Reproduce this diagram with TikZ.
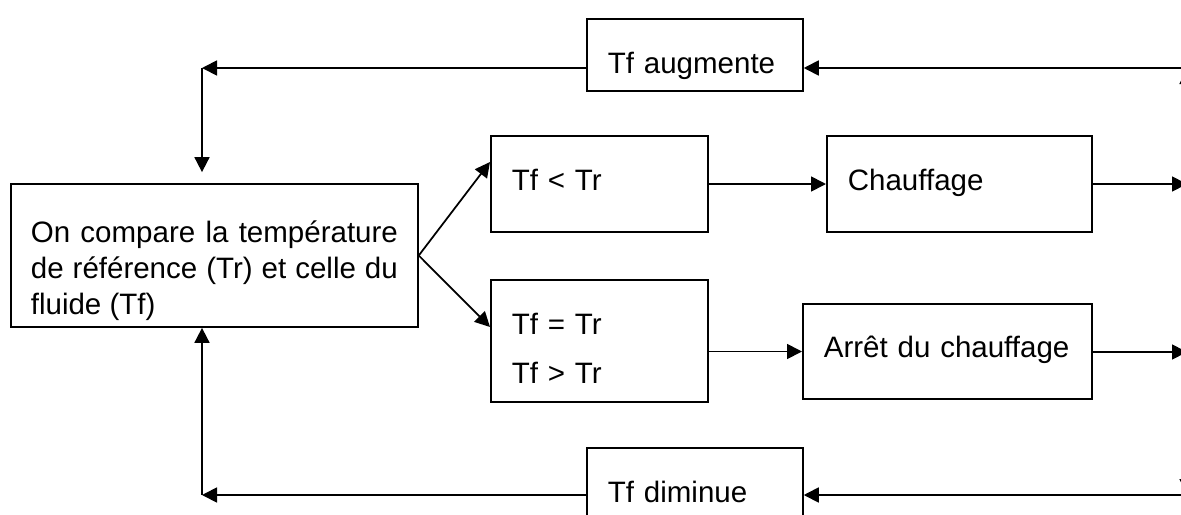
\documentclass[tikz,border=0pt]{standalone}
\usepackage{fontspec}
\setmainfont{Liberation Sans}
\setlength{\parindent}{0pt}
\usetikzlibrary{arrows.meta, calc}
\tikzstyle{bloc} = [rectangle, 
draw=black, 
line width=0.7pt, 
inner ysep=0pt, 
inner xsep=8.4pt, 
align=left, 
anchor=base west, 
font=\fontsize{11.8}{14.4}\selectfont]
\tikzstyle{arrow} = [line width=0.7pt, -{Triangle[length=6pt,width=6pt]}]

\begin{document}
\begin{tikzpicture}[x=0.4pt, y=-0.4pt]
	\useasboundingbox (0,0) rectangle (1181,514);
	\clip (0,0) rectangle (1181,514);

	\node (comp) [bloc, align=justify, inner xsep=8pt, text width=146.8pt, text height=23.2pt, text depth=34pt] at (10,242) {On compare la température de référence (Tr) et celle du fluide (Tf)};
	\node (inf) [bloc, text width=70pt, text height=21.6pt, text depth=16.8pt] at (490,190) {Tf < Tr};
	\node (chauf) [bloc, text width=89.2pt, text height=21.6pt, text depth=16.8pt] at (826,190) {Chauffage};
	\node (supeg) [bloc, text width=70pt, text height=21.6pt, text depth=27.2pt] at (490,334) {Tf = Tr\\[5.2pt]Tf > Tr};
	\node (arret) [bloc, text width=98.8pt, text height=21.2pt, text depth=16.8pt] at (802,357) {Arrêt du chauffage};
	\node (augm) [bloc, text width=69.6pt, text height=21.6pt, text depth=7.2pt] at (586,73) {Tf augmente};
	\node (dimi) [bloc, text width=69.6pt, text height=21.6pt, text depth=7.2pt] at (586,502) {Tf diminue};

	% retour a droite et coins de la boucle
	\coordinate (hd) at (1187,68);
	\coordinate (bd) at (1187,495);
	\coordinate (cg) at (202,68);
	\coordinate (bg) at (202,495);
	\coordinate (sa) at (1187,184);
	\coordinate (sb) at (1187,352);

	\draw [arrow] (comp.east) -- ([yshift=8.8pt]inf.west);
	\draw [arrow] (comp.east) -- ([yshift=5.6pt]supeg.west);
	\draw [arrow] (inf.east) -- (chauf.west);
	\draw [arrow] (supeg.east |- arret.west) -- (arret.west);
	\draw [arrow] (chauf.east) -- (sa);
	\draw [arrow] (arret.east |- sb) -- (sb);
	\draw [arrow] (sa) -- ([yshift=-0.4pt]hd);
	\draw [arrow] (sb) -- ([yshift=0.4pt]bd);

	\draw [arrow] (hd) -- (hd -| augm.east);
	\draw [arrow] (hd -| augm.west) -- (cg);
	\draw [arrow, shorten >=4.4pt] (cg) -- (cg |- comp.north);
	\draw [arrow] (bd) -- (bd -| dimi.east);
	\draw [arrow] (bd -| dimi.west) -- (bg);
	\draw [arrow] (bg) -- (bg |- comp.south);
\end{tikzpicture}
\end{document}
